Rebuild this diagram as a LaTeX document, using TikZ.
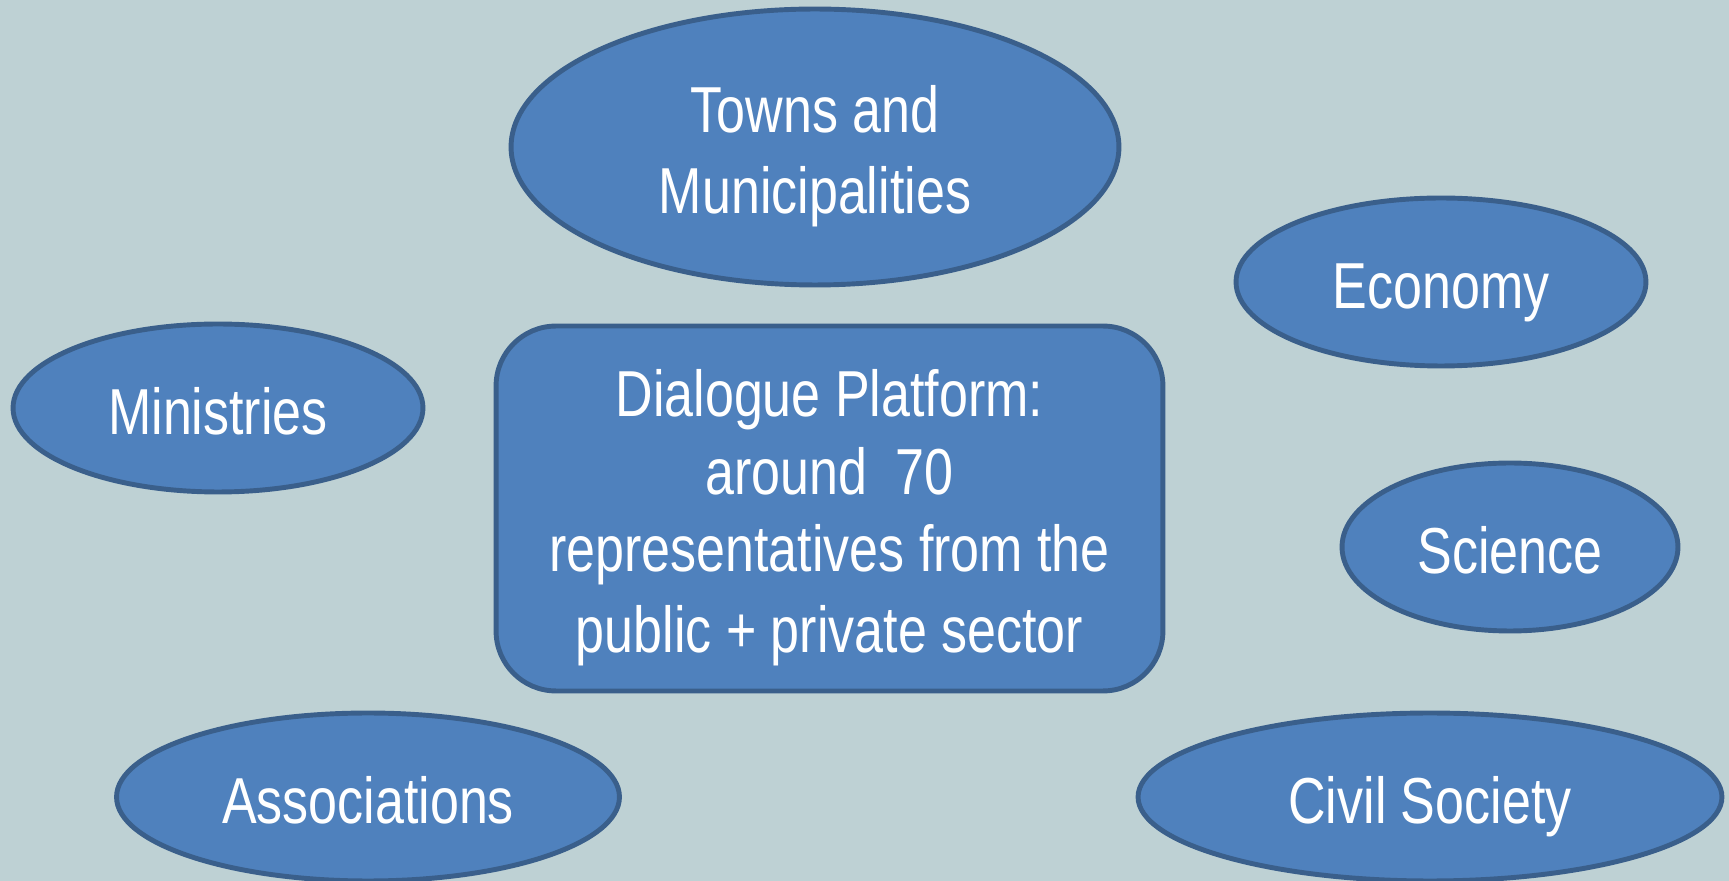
\documentclass[tikz,border=0pt]{standalone}
\usepackage{fontspec}
\setmainfont{Liberation Sans}[FakeStretch=0.8]
\usetikzlibrary{shapes.geometric}
\definecolor{bg}{HTML}{BED1D4}
\definecolor{fillblue}{HTML}{4F81BD}
\definecolor{edgeblue}{HTML}{3A5F8B}
\newcommand\linestrut{\rule[-7.5pt]{0pt}{45pt}}
\tikzset{
  blob/.style={ellipse, draw=edgeblue, fill=fillblue, line width=2.8pt, inner sep=0pt,
    text=white, font=\fontsize{37}{44}\selectfont, align=center},
  platform/.style={rectangle, draw=edgeblue, fill=fillblue, line width=2.8pt, inner sep=0pt,
    rounded corners=1.2cm, text=white, font=\fontsize{37}{44}\selectfont, align=center,
    minimum width=13.34cm, minimum height=7.3cm}
}
\begin{document}
\begin{tikzpicture}[x=0.02cm,y=-0.02cm]
\fill[bg] (0,0) rectangle (1729,881);
\useasboundingbox (0,0) rectangle (1729,881);
\node[blob, minimum width=12.16cm, minimum height=5.52cm] (towns) at (815,147) {\linestrut Towns and\\Municipalities\linestrut};
\node[blob, minimum width=8.2cm, minimum height=3.36cm] (economy) at (1441,282) {\linestrut Economy};
\node[blob, minimum width=8.2cm, minimum height=3.36cm] (ministries) at (218,408) {\linestrut Ministries};
\node[blob, minimum width=6.72cm, minimum height=3.36cm] (science) at (1510,547) {\linestrut Science};
\node[blob, minimum width=10.06cm, minimum height=3.36cm] (assoc) at (368,797) {\linestrut Associations};
\node[blob, minimum width=11.68cm, minimum height=3.36cm] (civil) at (1430,797) {\linestrut Civil Society};
\node[platform] (platform) at (829.5,508.5) {\linestrut Dialogue Platform:\\around~~70\\representatives from the\\public + private sector\linestrut};
\end{tikzpicture}
\end{document}
